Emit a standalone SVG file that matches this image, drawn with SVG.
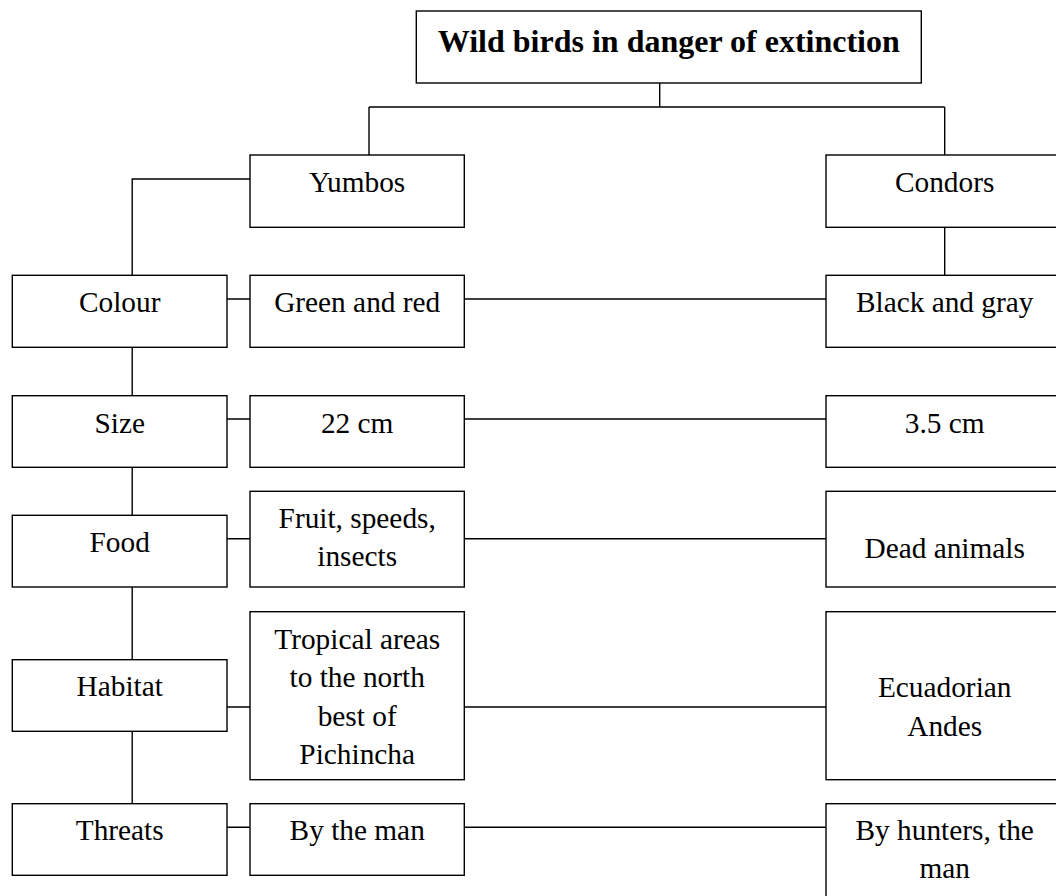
<svg xmlns="http://www.w3.org/2000/svg" width="1056" height="896" viewBox="0 0 1056 896">
<style>
.box{fill:#fff;stroke:#000;stroke-width:1.4}
.ln{fill:none;stroke:#000;stroke-width:1.4}
text{font-family:"Liberation Serif","Times New Roman",serif;font-size:29.33px;fill:#000;text-anchor:middle}
.title{font-size:32px;font-weight:bold}
</style>
<rect width="1056" height="896" fill="#fff"/>
<g id="connectors">
<path class="ln" d="M659.7 83V107M369 107H944.7M369 107V155M944.7 107V155"/>
<path class="ln" d="M944.7 227.3V275.3"/>
<path class="ln" d="M250 179H132.2V275.3"/>
<path class="ln" d="M132.2 347.3V395.7M132.2 467.3V515.3M132.2 587V659.7M132.2 731.3V803.7"/>
<path class="ln" d="M227 299H250M464.3 299H826"/>
<path class="ln" d="M227 419H250M464.3 419H826"/>
<path class="ln" d="M227 538.7H250M464.3 538.7H826"/>
<path class="ln" d="M227 707H250M464.3 707H826"/>
<path class="ln" d="M227 827.3H250M464.3 827.3H826"/>
</g>
<g id="title"><rect class="box" x="416.3" y="11" width="505" height="72"/><text class="title" x="668.8" y="52">Wild birds in danger of extinction</text></g>
<g id="yumbos"><rect class="box" x="250" y="155" width="214.3" height="72.3"/><text x="357.2" y="192.3">Yumbos</text></g>
<g id="condors"><rect class="box" x="826" y="155" width="238" height="72.3"/><text x="944.7" y="192.3">Condors</text></g>
<g id="colour"><rect class="box" x="12.3" y="275.3" width="214.7" height="72"/><text x="119.7" y="312.3">Colour</text></g>
<g id="green-red"><rect class="box" x="250" y="275.3" width="214.3" height="72"/><text x="357.2" y="312.3">Green and red</text></g>
<g id="black-gray"><rect class="box" x="826" y="275.3" width="238" height="72"/><text x="944.7" y="312.3">Black and gray</text></g>
<g id="size"><rect class="box" x="12.3" y="395.7" width="214.7" height="71.6"/><text x="119.7" y="432.7">Size</text></g>
<g id="size-yumbos"><rect class="box" x="250" y="395.7" width="214.3" height="71.6"/><text x="357.2" y="432.7">22 cm</text></g>
<g id="size-condors"><rect class="box" x="826" y="395.7" width="238" height="71.6"/><text x="944.7" y="432.7">3.5 cm</text></g>
<g id="food"><rect class="box" x="12.3" y="515.3" width="214.7" height="71.7"/><text x="119.7" y="552.3">Food</text></g>
<g id="food-yumbos"><rect class="box" x="250" y="491.3" width="214.3" height="95.7"/><text x="357.2" y="528.3">Fruit, speeds,</text><text x="357.2" y="566">insects</text></g>
<g id="food-condors"><rect class="box" x="826" y="491.3" width="238" height="95.7"/><text x="944.7" y="558.3">Dead animals</text></g>
<g id="habitat"><rect class="box" x="12.3" y="659.7" width="214.7" height="71.6"/><text x="119.7" y="696.3">Habitat</text></g>
<g id="habitat-yumbos"><rect class="box" x="250" y="611.7" width="214.3" height="168"/><text x="357.2" y="649">Tropical areas</text><text x="357.2" y="687.4">to the north</text><text x="357.2" y="725.8">best of</text><text x="357.2" y="764.2">Pichincha</text></g>
<g id="habitat-condors"><rect class="box" x="826" y="611.7" width="238" height="168"/><text x="944.7" y="696.7">Ecuadorian</text><text x="944.7" y="735.5">Andes</text></g>
<g id="threats"><rect class="box" x="12.3" y="803.7" width="214.7" height="71.6"/><text x="119.7" y="840">Threats</text></g>
<g id="threats-yumbos"><rect class="box" x="250" y="803.7" width="214.3" height="71.6"/><text x="357.2" y="840">By the man</text></g>
<g id="threats-condors"><rect class="box" x="826" y="803.7" width="238" height="110"/><text x="944.7" y="840">By hunters, the</text><text x="944.7" y="878.3">man</text></g>
</svg>
